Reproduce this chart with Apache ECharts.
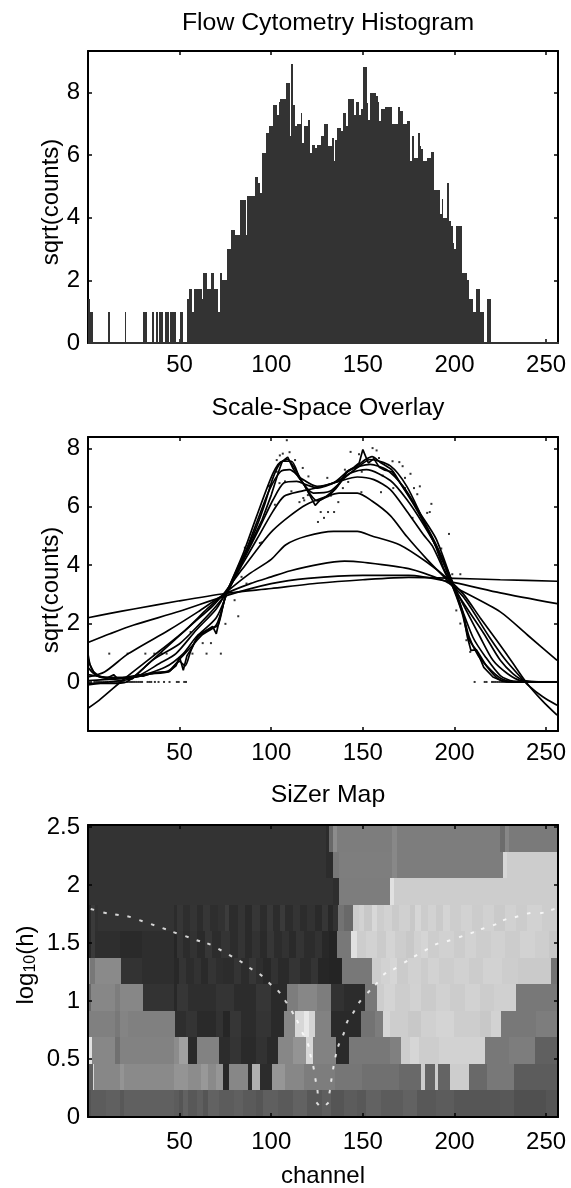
<!DOCTYPE html>
<html>
<head>
<meta charset="utf-8">
<style>html,body{margin:0;padding:0;background:#fff}#c{width:571px;height:1188px}</style>
<script src="https://cdn.jsdelivr.net/npm/echarts@6/dist/echarts.min.js"></script>
</head>
<body>
<div id="c"></div>
<script>
var titles = ['Flow Cytometry Histogram', 'Scale-Space Overlay', 'SiZer Map'];
var xTicksTop = [50, 100, 150, 200, 250];
var yTicks1 = [0, 2, 4, 6, 8];
var yTicks2 = [0, 2, 4, 6, 8];
var yTicks3 = [0, 0.5, 1, 1.5, 2, 2.5];

// sqrt(counts) per channel bin
var sqrtCounts = [
1.41,1,1,0,0,0,0,0,0,0,
0,1,0,0,0,0,0,0,0,0,
1,0,0,0,0,0,0,0,0,0,
1,1,0,0,0,1,0,1,0,1,
1,0,1,1,0,1,1,1,0,0,
1,1,0,0,1.41,1.73,1.73,1,1.73,1.73,
1.73,1.73,1.41,2.24,2.24,1.73,1.73,2.24,2.24,1.73,
1.73,1,2.24,2,2,2,3,3,3.6,3.6,
3.46,3.46,3.46,4.58,4.58,4.58,3.46,4.69,4.69,4.69,
4.69,5.29,5.29,5.1,4.8,6.08,6.08,6.7,6.7,6.93,
6.93,7.6,7.6,7.28,7.7,7.8,7.8,7.8,8.3,8.3,
6.6,8.9,7.6,6.93,7,7,7.35,6.4,6.93,6.93,
7.14,6.08,6.32,6.32,6.24,6.32,6.32,6.6,6.6,7,
7,6.3,6.3,6.56,5.83,6.5,6.86,6.86,6.78,7.35,
7.35,6.93,7.8,7.8,7.8,7.28,7.7,7.7,7.28,7.48,
8.83,8.83,7.68,7.14,8,8,8,7.9,7.7,7.1,
7.48,7.48,7.55,7.55,7.55,7.55,7,7,7,7.55,
7.4,7.4,7,7,7.1,7.1,5.83,6.6,5.9,5.9,
6.7,6.3,6.2,5.83,5.83,5.9,5.9,6.1,6.1,4.9,
4.9,4.9,4.12,4.6,4,4,5.1,3.9,3.74,3.2,
3,3.74,3.74,3.74,2.24,2.24,2.24,2,1.41,1.41,
1,1,1.73,1.73,1,1,0,0,1.41,1.41,
0,0,0,0,0,0,0,0,0,0,
0,0,0,0,0,0,0,0,0,0,
0,0,0,0,0,0,0,0,0,0,
0,0,0,0,0,0
];

// Raw points visible in the overlay panel, [channel, sqrt(counts)]
var overlayDots = [[11.6,0.97],[21.6,0.97],[31.3,0.97],[36.2,0.97],[40.4,0.97],[42.9,0.97],[57,0.97],[64.7,0.97],[72.5,0.97],[62.6,1.33],[67.1,1.33],[56,1.71],[75,1.99],[82,2.25],[80,2.8],[83.8,3.6],[86.5,3.37],[85.6,4.6],[93.8,4.76],[94.8,4.78],[98.5,6.7],[99,6.73],[102,6.07],[103,7.6],[103,7.2],[104.5,6.81],[104.7,7.76],[106.3,7.82],[107.5,6.87],[108.5,8.28],[110,7.87],[111,6.53],[113,7.6],[115.4,6.16],[117.2,7.33],[117.5,6.3],[118,6.22],[120,6.4],[120.3,7.04],[125.5,5.48],[127,5.82],[128.8,5.62],[130.6,6.99],[131,5.82],[132.5,6.38],[134.3,5.82],[136.6,6.16],[138,6.9],[139.1,6.64],[140.2,7.27],[142,6.85],[143.3,7.88],[147.9,7.8],[149.2,6.5],[149.4,7.2],[155.3,8.01],[157.5,7.93],[158.8,7.67],[159.9,6.5],[160.8,7.07],[166.2,7.56],[166.6,6.64],[169.9,7.53],[171.7,7.39],[173,6.99],[173,6.64],[176,7.13],[177.1,5.62],[177.9,6.64],[179.7,6.43],[181.1,6.7],[185.1,5.79],[186.5,5.82],[187.4,6.1],[192.8,4.57],[197,5.07],[198.8,3.69],[201,2.45],[203.2,3.69],[203.2,2],[206.5,1.43],[208.6,1.03],[211,0]];

// Smoothed curves, [channel, value], large bandwidth to small
var curve1 = [[0,2.2],[12,2.35],[25,2.5],[50,2.78],[75,3.03],[100,3.2],[125,3.38],[150,3.5],[175,3.58],[200,3.55],[225,3.5],[256,3.45]];
var curve2 = [[0,1.35],[12,1.65],[25,1.95],[50,2.42],[75,2.95],[100,3.37],[120,3.55],[150,3.65],[175,3.65],[200,3.4],[225,3.05],[256,2.68]];
var curve3 = [[0,0.17],[9,0.34],[22,0.97],[44,1.77],[60,2.4],[75,3.02],[90,3.4],[100,3.6],[110,3.8],[126,4.03],[140,4.14],[150,4.1],[175,3.88],[195,3.45],[200,3.25],[225,2.4],[240,1.6],[256,0.74]];
var curve4 = [[0,-0.9],[6,-0.63],[21,0.17],[35,0.86],[53,1.77],[65,2.5],[75,3.05],[88,3.7],[100,4.2],[108,4.7],[119,4.99],[134,5.16],[147,5.16],[155,5.0],[170,4.7],[185,4.1],[197,3.5],[205,3],[214,2.2],[223,1.43],[232,0.63],[239,0],[248,-0.65],[256,-1.14]];
var curve5 = [[0,-0.05],[12,-0.05],[21,0],[30,0.45],[41,1.08],[57,1.99],[68,2.6],[75,3.1],[84,3.85],[95,4.76],[101,5.2],[110,5.68],[119,6.07],[130,6.35],[137,6.47],[147,6.47],[155,6.2],[165,5.7],[174,4.98],[185,4.2],[195,3.55],[205,2.9],[219,1.54],[228,0.74],[236,0.17],[240,-0.1],[248,-0.5],[256,-0.8]];
var curve6 = [[0,-0.1],[14,0.02],[24,0.13],[35,0.74],[50,1.31],[61,1.99],[70,2.6],[76,3.1],[84,4.0],[92,4.87],[101,5.85],[107,6.36],[116,6.53],[125,6.65],[137,6.87],[147,7.02],[156,6.93],[165,6.59],[174,5.85],[183,5.05],[188,4.65],[196,3.6],[206,2.6],[216,1.66],[225,0.74],[232,0.28],[238,0.05],[248,0],[256,0]];
var curve7 = [[0,0.05],[14,0.1],[26,0.17],[39,0.63],[48,0.97],[59,1.77],[70,2.5],[76,3.15],[85,4.2],[94,5.33],[101,6.24],[107,6.82],[114,6.87],[119,6.76],[125,6.64],[136,6.87],[143,7.15],[152,7.27],[165,6.9],[174,6.25],[183,5.4],[192,4.4],[202,3.0],[214,1.54],[221,0.74],[229,0.28],[236,0.05],[256,0]];
var curve8 = [[0,0.25],[5,0.2],[14,0.13],[26,0.17],[42,0.5],[52,0.97],[59,1.54],[70,2.2],[77,3.2],[85,4.3],[92,5.45],[99,6.58],[105,7.2],[110,7.27],[116,6.99],[125,6.7],[134,6.82],[143,7.27],[154,7.45],[163,7.27],[172,6.7],[181,5.8],[190,4.9],[200,3.2],[210,1.54],[217,0.85],[225,0.22],[232,0.03],[256,0]];
var curve9 = [[0,0.5],[3,0.3],[8,0.15],[16,0.15],[26,0.17],[36,0.3],[44,0.38],[51,0.85],[57,1.25],[62,1.6],[70,1.95],[76,3.1],[85,4.45],[92,5.67],[101,7.15],[106,7.56],[111,7.56],[116,6.93],[123,6.47],[132,6.53],[141,7.04],[148,7.39],[154,7.62],[165,7.4],[174,6.7],[183,5.55],[190,4.7],[197,3.7],[204,2.5],[208,1.55],[213,0.9],[220,0.4],[226,0.1],[232,0],[256,0]];
var curve10 = [[0,0.8],[2,0.45],[5,0.22],[10,0.15],[18,0.15],[26,0.22],[34,0.28],[44,0.35],[50,0.7],[53,0.55],[56,1.05],[60,1.55],[66,1.8],[71,1.95],[75,2.95],[82,3.95],[90,5.0],[96,6.0],[101,7.0],[105,7.5],[109,7.62],[112,7.4],[117,6.85],[121,6.45],[125,6.2],[130,6.35],[136,6.7],[141,7.15],[147,7.4],[151,7.6],[155,7.72],[160,7.5],[166,7.25],[171,6.75],[178,6.05],[185,5.25],[191,4.5],[197,3.6],[204,2.4],[208,1.45],[213,1.0],[218,0.5],[224,0.1],[230,0],[256,0]];
var curve11 = [[0,0.95],[1,0.6],[3,0.35],[6,0.2],[10,0.12],[14,0.25],[16,0.12],[20,0.15],[24,0.1],[27,0.25],[30,0.2],[34,0.28],[38,0.33],[44,0.35],[48,0.55],[50,0.85],[52,0.4],[54,0.9],[57,1.2],[60,1.6],[64,1.75],[68,1.9],[70,1.65],[72,2.2],[75,2.95],[78,3.3],[82,3.85],[86,4.4],[90,4.9],[95,5.55],[100,6.4],[104,7.2],[106,7.55],[109,7.7],[112,7.3],[115,7],[118,6.75],[121,6.4],[124,6.05],[127,6.25],[131,6.35],[135,6.6],[138,6.85],[141,7.2],[145,7.35],[148,7.5],[150,7.96],[153,7.5],[156,7.65],[159,7.35],[162,7.25],[166,7.2],[170,6.85],[175,6.4],[180,5.9],[184,5.4],[188,4.9],[190,4.6],[194,3.9],[198,3.4],[201,3.0],[205,2.25],[207,1.55],[209,1.08],[212,1.1],[216,0.5],[221,0.17],[226,0.03],[232,0],[256,0]];

// SiZer map: bandwidth rows bottom to top, each a list of [start channel, grey level]
var sizerRow0 = [[0,84],[2,92],[10,96],[18,88],[20,96],[47,92],[50,85],[52,98],[55,88],[60,95],[63,85],[66,98],[72,92],[80,96],[85,90],[92,85],[96,95],[104,90],[112,98],[120,88],[128,95],[133,85],[140,92],[147,88],[152,98],[160,92],[172,98],[180,88],[190,92],[200,86],[225,88],[233,80],[250,85]];
var sizerRow1 = [[0,96],[3,215],[3.7,135],[18,148],[20,138],[47,148],[55,140],[62,152],[66,138],[70,150],[74,40],[77,135],[87.5,44],[90,175],[94,44],[100.5,150],[108,135],[118,125],[135,118],[150,112],[170,105],[182,205],[184,100],[189.5,205],[191.5,100],[198,205],[208,105],[218,120],[233,92]];
var sizerRow2 = [[0,225],[2.2,135],[15,112],[18,130],[47,140],[50,160],[55,42],[59.5,130],[72,44],[78,52],[84,42],[92,50],[98,42],[104,135],[112,148],[119.5,215],[123,130],[135.5,42],[142.5,120],[165,128],[171,205],[176,214],[181,205],[192,210],[217,120],[230,125],[244,96]];
var sizerRow3 = [[0,128],[15,120],[18,132],[22,128],[48,46],[54,52],[60,42],[70,50],[74,38],[78,54],[84,44],[92,52],[100,42],[107,135],[113,215],[118,232],[121,212],[124,130],[133,42],[149,115],[157,125],[161,214],[165,205],[175,200],[182,208],[190,212],[200,205],[214,200],[220,210],[225.5,120],[245,125]];
var sizerRow4 = [[0,105],[2,135],[15,125],[18,135],[30.5,51],[47,40],[49,54],[55,46],[70,52],[80,44],[92,54],[100,42],[109,125],[115,135],[125,125],[133,50],[140,44],[151.5,120],[158,205],[162,212],[168,205],[176,210],[182,203],[190,209],[198,204],[206,210],[214,204],[222,208],[234,120]];
var sizerRow5 = [[0,160],[1.5,120],[4,138],[18.5,51],[30,46],[47,40],[50,52],[54,44],[58,50],[62,42],[66,52],[70,46],[74,44],[80,52],[84,44],[88,54],[92,46],[96,40],[100,50],[104,42],[110,52],[116,44],[122,52],[126,38],[132,36],[139,120],[155,205],[160,210],[165,214],[169,203],[175,209],[182,204],[186,210],[192,205],[200,209],[208,204],[216,210],[226,205],[235,202],[253,115]];
var sizerRow6 = [[0,40],[2,58],[4,46],[18,42],[30,46],[47,38],[49,52],[52,44],[56,50],[60,42],[64,54],[68,44],[73,52],[78,44],[82,52],[86,42],[90,50],[94,42],[98,54],[102,44],[106,50],[110,42],[114,52],[118,44],[124,50],[128,40],[132,36],[136,120],[144,225],[147,205],[152,210],[158,203],[163,212],[168,205],[174,200],[178,209],[182,213],[186,205],[192,209],[200,204],[206,210],[212,205],[220,209],[228,204],[236,210],[244,206],[252,200]];
var sizerRow7 = [[0,40],[2,58],[4,48],[6,51],[47,44],[49,54],[52,46],[56,52],[60,44],[63,54],[67,46],[71,50],[75,60],[77,44],[82,52],[86,42],[90,54],[94,44],[98,56],[101,44],[105,58],[108,44],[112,52],[116,44],[120,50],[124,42],[128,54],[131,40],[134,50],[136.5,115],[140,105],[145,205],[148,210],[151,200],[155,216],[158,205],[162,210],[166,202],[170,208],[176,200],[179,214],[182,204],[186,210],[190,202],[194,212],[198,205],[204,210],[210,204],[216,209],[222,202],[228,209],[234,204],[240,210],[248,205]];
var sizerRow8 = [[0,51],[134,46],[137,125],[165,225],[167,205]];
var sizerRow9 = [[0,51],[130,44],[134,120],[137,126],[166,136],[169,125],[227,215],[229,205]];
var sizerRow10 = [[0,51],[130,44],[132,105],[134,140],[136,125],[166,136],[169,125],[225,108],[228,135],[230,122]];
var sizerRows = [sizerRow0,sizerRow1,sizerRow2,sizerRow3,sizerRow4,sizerRow5,sizerRow6,sizerRow7,sizerRow8,sizerRow9,sizerRow10];
var logHRowEdges = [0,0.229,0.458,0.687,0.916,1.145,1.373,1.602,1.831,2.06,2.289,2.518];

// Bandwidth visible-scale boundary, [channel, log10(h)]
var boundaryCurve = [[2.4,1.79],[9.3,1.76],[15.8,1.744],[22.4,1.727],[28.9,1.693],[35.3,1.658],[41.6,1.624],[47.5,1.589],[54,1.555],[60.2,1.52],[66,1.492],[72,1.443],[77.8,1.391],[83.5,1.339],[88.9,1.279],[94.4,1.224],[99.3,1.149],[104.2,1.08],[108,0.994],[111.6,0.902],[114.4,0.822],[117.3,0.718],[120.2,0.621],[121.5,0.529],[123.1,0.425],[124.2,0.319],[125.3,0.218],[125.3,0.115],[130.6,0.115],[131.9,0.218],[132.8,0.319],[133.9,0.425],[135.2,0.529],[136.8,0.621],[139.5,0.718],[141.5,0.822],[145,0.905],[148.3,0.994],[153.2,1.08],[157.4,1.149],[161.9,1.235],[167.4,1.279],[173.4,1.339],[178.8,1.391],[184.6,1.443],[190.3,1.492],[196.8,1.52],[203.4,1.555],[209.7,1.589],[215.4,1.624],[221.9,1.658],[227.4,1.701],[233.9,1.727],[240.5,1.756],[247.7,1.76],[253.7,1.79]];

var FONT = '"Liberation Sans", Arial, sans-serif';
var INK = '#000';
var XMIN = 0, XMAX = 256.5;
var LABEL_SIZE = 24, TITLE_SIZE = 24.8;

function frameLine() { return {show:true, onZero:false, lineStyle:{color:INK, width:2}}; }
function xAxisPair(grid, margin) {
  var base = {type:'value', gridIndex:grid, min:XMIN, max:XMAX, splitLine:{show:false}, z:6, axisLine:frameLine(),
    axisTick:{show:true, inside:true, length:4, lineStyle:{color:INK, width:1.5}, customValues:xTicksTop}};
  return [
    Object.assign({}, base, {position:'bottom', axisLabel:{show:true, color:INK, fontFamily:FONT, fontSize:LABEL_SIZE, margin:margin, customValues:xTicksTop}}),
    Object.assign({}, base, {position:'top', axisLabel:{show:false}})
  ];
}
function yAxisPair(grid, min, max, ticks, extra) {
  var base = {type:'value', gridIndex:grid, min:min, max:max, splitLine:{show:false}, z:6, axisLine:frameLine(),
    axisTick:{show:true, inside:true, length:4, lineStyle:{color:INK, width:1.5}, customValues:ticks}};
  return [
    Object.assign({}, base, {position:'left', axisLabel:{show:true, color:INK, fontFamily:FONT, fontSize:LABEL_SIZE, margin:8, customValues:ticks}}, extra||{}),
    Object.assign({}, base, {position:'right', axisLabel:{show:false}})
  ];
}
function nameStyle(padding) {
  return {color:INK, fontFamily:FONT, fontSize:LABEL_SIZE, padding:padding};
}

var xAxes = [].concat(xAxisPair(0, 10), xAxisPair(1, 10), xAxisPair(2, 13));
xAxes[4].name = 'channel';
xAxes[4].nameLocation = 'middle';
xAxes[4].nameGap = 47;
xAxes[4].nameMoveOverlap = false;
xAxes[4].nameTextStyle = nameStyle(0);

var yAxes = [].concat(
  yAxisPair(0, 0, 9.33, yTicks1, {name:'sqrt(counts)', nameLocation:'middle', nameGap:25, nameMoveOverlap:false, nameTextStyle:nameStyle([0,10,0,0])}),
  yAxisPair(1, -1.68, 8.39, yTicks2, {name:'sqrt(counts)', nameLocation:'middle', nameGap:25, nameMoveOverlap:false, nameTextStyle:nameStyle([0,12,0,0])}),
  yAxisPair(2, 0, 2.518, yTicks3, {name:'log{s|10}(h)', nameLocation:'middle', nameGap:49, nameMoveOverlap:false,
    nameTextStyle:Object.assign(nameStyle([0,0,0,12]), {rich:{s:{fontSize:16, fontFamily:FONT, color:INK, verticalAlign:'bottom', padding:[10,0,0,0]}}})})
);

var binCentres = sqrtCounts.map(function (v, i) { return i + 0.5; });
var histData = sqrtCounts.map(function (v, i) { return [binCentres[i], v]; });
var zeroDots = histData.filter(function (d) { return d[1] === 0; });

var curves = [curve1,curve2,curve3,curve4,curve5,curve6,curve7,curve8,curve9,curve10,curve11];
var curveSeries = curves.map(function (c, i) {
  return {type:'line', xAxisIndex:2, yAxisIndex:2, data:c, showSymbol:false, smooth:i < 10 ? 0.25 : false, z:3,
    lineStyle:{color:'#000', width:1.7}, animation:false, silent:true};
});

var sizerCells = [];
sizerRows.forEach(function (row, r) {
  row.forEach(function (run, k) {
    var end = k + 1 < row.length ? row[k + 1][0] : XMAX;
    if (end > run[0]) sizerCells.push([run[0], end, logHRowEdges[r], logHRowEdges[r + 1], run[1]]);
  });
});

function dashAngle(val, params) {
  var i = params.dataIndex, a = boundaryCurve[Math.max(0, i - 1)], b = boundaryCurve[Math.min(boundaryCurve.length - 1, i + 1)];
  return Math.atan2((b[1] - a[1]) * 116, (b[0] - a[0]) * 1.833) * 180 / Math.PI;
}

var option = {
  animation:false,
  backgroundColor:'#fff',
  title:[
    {text:titles[0], left:323, textAlign:'center', top:6, textStyle:{color:INK, fontFamily:FONT, fontSize:TITLE_SIZE, fontWeight:'normal'}},
    {text:titles[1], left:323, textAlign:'center', top:391, textStyle:{color:INK, fontFamily:FONT, fontSize:TITLE_SIZE, fontWeight:'normal'}},
    {text:titles[2], left:323, textAlign:'center', top:778, textStyle:{color:INK, fontFamily:FONT, fontSize:TITLE_SIZE, fontWeight:'normal'}}
  ],
  grid:[
    {left:88, top:51, width:470, height:292, outerBoundsMode:'none'},
    {left:88, top:437, width:470, height:294, outerBoundsMode:'none'},
    {left:88, top:825, width:470, height:292, outerBoundsMode:'none'}
  ],
  xAxis:xAxes,
  yAxis:yAxes,
  series:[
    {type:'custom', xAxisIndex:0, yAxisIndex:0, data:histData, clip:false, silent:true, z:7,
      encode:{x:0, y:1},
      renderItem:function (params, api) {
        var left = api.coord([api.value(0) - 0.5, api.value(1)]);
        var right = api.coord([api.value(0) + 0.5, 0]);
        var xa = Math.round(left[0]), xb = Math.round(right[0]) + (params.dataIndex === 255 ? 2 : 0);
        var top = Math.round(left[1]), base = Math.round(right[1]) + 1;
        if (base - top < 2) top = base - 2;
        return {type:'rect', shape:{x:xa, y:top, width:xb - xa, height:base - top}, style:{fill:'#333', stroke:null}};
      }},
    {type:'scatter', xAxisIndex:2, yAxisIndex:2, data:overlayDots.concat(zeroDots), symbol:'rect', symbolSize:2, clip:true,
      itemStyle:{color:'#000'}, silent:true, z:3}
  ].concat(curveSeries, [
    {type:'custom', xAxisIndex:4, yAxisIndex:4, data:sizerCells, clip:true, silent:true, z:2,
      encode:{x:[0,1], y:[2,3]},
      renderItem:function (params, api) {
        var p0 = api.coord([api.value(0), api.value(3)]);
        var p1 = api.coord([api.value(1), api.value(2)]);
        var g = api.value(4);
        var xa = Math.floor(p0[0]), xb = Math.ceil(p1[0]);
        return {type:'rect', shape:{x:xa, y:Math.round(p0[1]), width:xb - xa, height:Math.round(p1[1]) - Math.round(p0[1])},
          style:{fill:'rgb(' + g + ',' + g + ',' + g + ')', stroke:null}};
      }},
    {type:'scatter', xAxisIndex:4, yAxisIndex:4, data:boundaryCurve, symbol:'rect', symbolSize:[3.5,2], symbolRotate:dashAngle, z:4,
      itemStyle:{color:'#fff'}, silent:true}
  ])
};
echarts.init(document.getElementById('c'), null, {renderer:'canvas'}).setOption(option);
</script>
</body>
</html>
